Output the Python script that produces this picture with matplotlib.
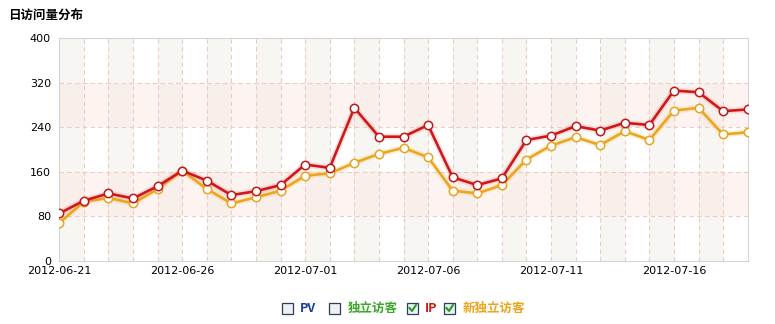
import matplotlib
matplotlib.use("Agg")
import matplotlib.pyplot as plt
from matplotlib.patches import Rectangle
from matplotlib.lines import Line2D
import datetime as dt

dates = [(dt.date(2012, 6, 21) + dt.timedelta(days=i)).strftime("%Y-%m-%d") for i in range(29)]
ip = [85, 108, 121, 112, 134, 162, 144, 118, 125, 136, 173, 167, 275, 223, 223, 244,
      150, 136, 148, 217, 225, 242, 234, 248, 244, 306, 303, 269, 272]
new_uv = [68, 106, 113, 103, 129, 162, 129, 103, 114, 126, 153, 157, 176, 192, 203, 186,
          126, 121, 136, 182, 207, 222, 208, 233, 217, 270, 275, 227, 231]
yticks = [0, 80, 160, 240, 320, 400]
legend_items = ["PV", "独立访客", "IP", "新独立访客"]
legend_checked = [False, False, True, True]
legend_colors = ["#1a3f9a", "#3aa62a", "#d01818", "#eea21a"]

plt.rcParams['font.family'] = ['DejaVu Sans', 'Noto Sans CJK SC']

W, H = 775, 324
fig = plt.figure(figsize=(W / 100, H / 100), dpi=100)
ax = fig.add_axes([59.3 / W, 1 - 260.7 / H, (747.7 - 59.3) / W, (260.7 - 38.3) / H])

x = list(range(len(dates)))
ax.set_xlim(0, len(dates) - 1)
ax.set_ylim(0, 400)

# background stripes
for i in range(0, len(dates) - 1, 2):
    ax.axvspan(i, i + 1, color="#f7f6f2", lw=0, zorder=0)
for lo, hi in [(80, 160), (240, 320)]:
    ax.axhspan(lo, hi, color="#fbe4df", alpha=0.4, lw=0, zorder=0.5)

# grid
for i in x[1:-1]:
    ax.axvline(i, color="#ebcbc3", lw=0.8, ls=(0, (4, 3)), zorder=1)
for v in yticks[1:-1]:
    ax.axhline(v, color="#ebcbc3", lw=0.8, ls=(0, (4, 3)), zorder=1)

# lines with glow
ax.plot(x, new_uv, color="#f3c86a", lw=4.5, alpha=0.25, zorder=2, solid_capstyle="round")
ax.plot(x, new_uv, color="#eaa620", lw=1.9, zorder=3,
        marker="o", ms=6, mfc="white", mec="#e8a420", mew=1.1)
ax.plot(x, ip, color="#ee8080", lw=4.5, alpha=0.22, zorder=4, solid_capstyle="round")
ax.plot(x, ip, color="#d01818", lw=1.9, zorder=5,
        marker="o", ms=6, mfc="white", mec="#c01818", mew=1.1)

ax.set_yticks(yticks)
ax.set_yticklabels([str(v) for v in yticks])
ax.set_xticks(x[::5])
ax.set_xticklabels(dates[::5])
ax.tick_params(axis="both", length=0, labelsize=8, colors="black")
ax.tick_params(axis="y", pad=6)
ax.tick_params(axis="x", pad=4)
for s in ax.spines.values():
    s.set_color("#d4d4d4")
    s.set_linewidth(0.8)

# title
fig.text(8 / W, 1 - 15 / H, "日访问量分布", fontsize=9, fontweight="bold",
         family=["Noto Sans CJK SC", "DejaVu Sans"], va="center", ha="left")

# legend with checkboxes
box_x = [282, 329, 407, 444]
text_x = [300, 348, 425, 463]
yc = 308
for bx, tx, label, chk, col in zip(box_x, text_x, legend_items, legend_checked, legend_colors):
    r = Rectangle((bx / W, 1 - (yc + 6) / H), 11 / W, 11 / H, transform=fig.transFigure,
                  facecolor="#eef1f4", edgecolor="#2a3f5a", lw=0.9)
    fig.add_artist(r)
    if chk:
        ln = Line2D([(bx + 2.5) / W, (bx + 5) / W, (bx + 9) / W],
                    [1 - (yc) / H, 1 - (yc + 3) / H, 1 - (yc - 3) / H],
                    transform=fig.transFigure, color="#22a022", lw=1.5)
        fig.add_artist(ln)
    fig.text(tx / W, 1 - yc / H, label, color=col, fontsize=9, fontweight="bold",
             family=["Noto Sans CJK SC", "DejaVu Sans"], va="center", ha="left")

fig.savefig("out.png", dpi=100, facecolor="white")
